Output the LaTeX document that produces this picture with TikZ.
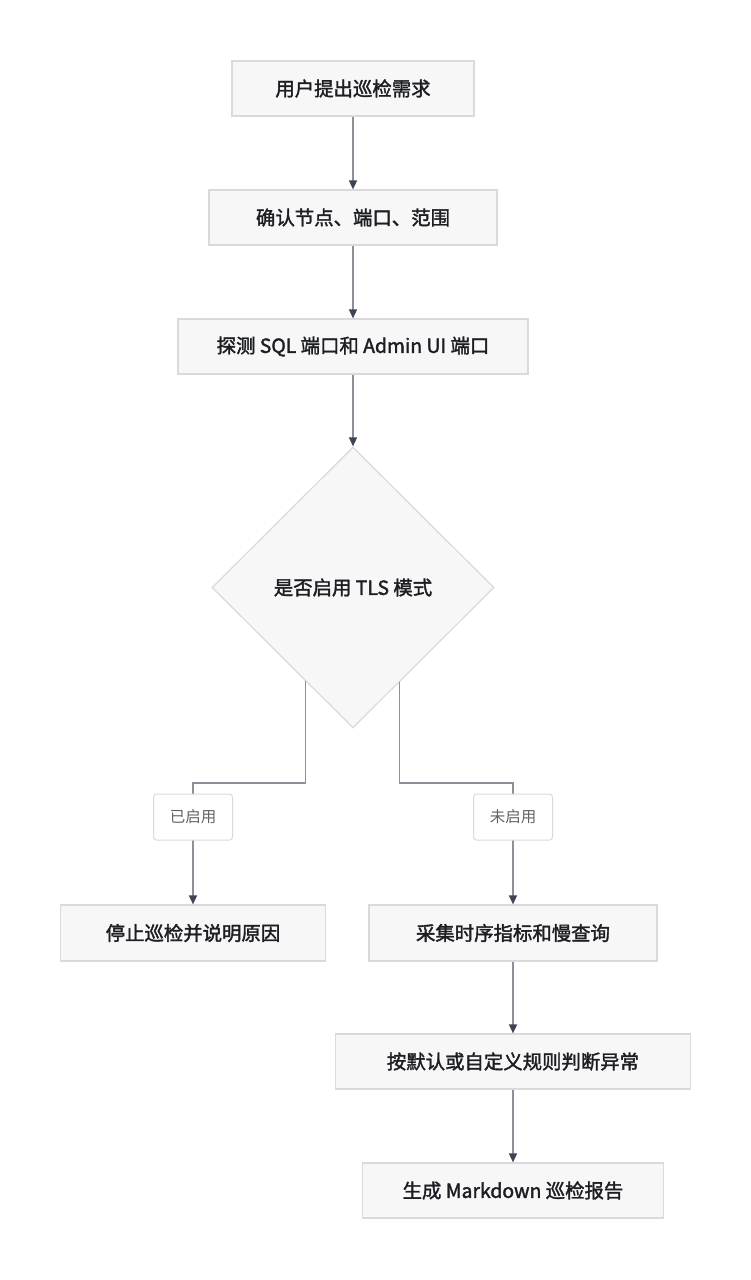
\documentclass[tikz,border=0pt]{standalone}
\usepackage{fontspec}
\setmainfont{Noto Sans CJK SC}
\newfontfamily\stepfont{Noto Sans CJK SC}[FakeBold=1.8]
\usetikzlibrary{shapes.geometric,arrows.meta}
\definecolor{boxfill}{RGB}{247,247,247}
\definecolor{boxline}{RGB}{218,218,220}
\definecolor{linkgray}{RGB}{140,145,153}
\definecolor{tipgray}{RGB}{62,68,82}
\definecolor{textdark}{RGB}{28,30,36}
\definecolor{labeltext}{RGB}{100,100,104}
\tikzstyle{step box}=[draw=boxline, fill=boxfill, line width=1.2pt, inner sep=0pt,
    text=textdark, font=\fontsize{19.4}{22}\stepfont]
\tikzstyle{check}=[step box, diamond, aspect=1]
\tikzstyle{link}=[draw=linkgray, line width=1.5pt,
    -{Triangle[length=9pt, width=8pt, color=tipgray]}]
\tikzstyle{branch}=[draw=boxline, fill=white, line width=1pt, rounded corners=3pt,
    minimum width=79pt, minimum height=46pt, inner sep=0pt,
    text=labeltext, font=\fontsize{15.5}{18}\selectfont]

\begin{document}
\begin{tikzpicture}[x=1pt, y=-1pt]
    \useasboundingbox (0,0) rectangle (751,1280);

    \node[step box, minimum width=242pt, minimum height=55pt] (ask) at (353,88.5) {用户提出巡检需求};
    \node[step box, minimum width=288pt, minimum height=55pt] (scope) at (353,217.5) {确认节点、端口、范围};
    \node[step box, minimum width=350pt, minimum height=55pt] (probe) at (353,346.5) {探测 SQL 端口和 Admin UI 端口};
    \node[check, minimum width=282pt, minimum height=281pt] (tls) at (353,587.5) {是否启用 TLS 模式};
    \node[step box, minimum width=265pt, minimum height=56pt] (stop) at (193,933) {停止巡检并说明原因};
    \node[step box, minimum width=288pt, minimum height=56pt] (collect) at (513,933) {采集时序指标和慢查询};
    \node[step box, minimum width=355pt, minimum height=55pt] (judge) at (513,1061.5) {按默认或自定义规则判断异常};
    \node[step box, minimum width=301pt, minimum height=55pt] (report) at (513,1190.5) {生成 Markdown 巡检报告};

    \coordinate (bendL) at (193,783);
    \coordinate (bendR) at (513,783);

    \draw[link] (ask) -- (scope);
    \draw[link] (scope) -- (probe);
    \draw[link] (probe) -- (tls);
    \draw[link] (tls.243.4) |- (bendL) -- (stop);
    \draw[link] (tls.296.6) |- (bendR) -- (collect);
    \draw[link] (collect) -- (judge);
    \draw[link] (judge) -- (report);

    \node[branch] (on) at (193,817) {已启用};
    \node[branch] (off) at (513,817) {未启用};
\end{tikzpicture}
\end{document}
